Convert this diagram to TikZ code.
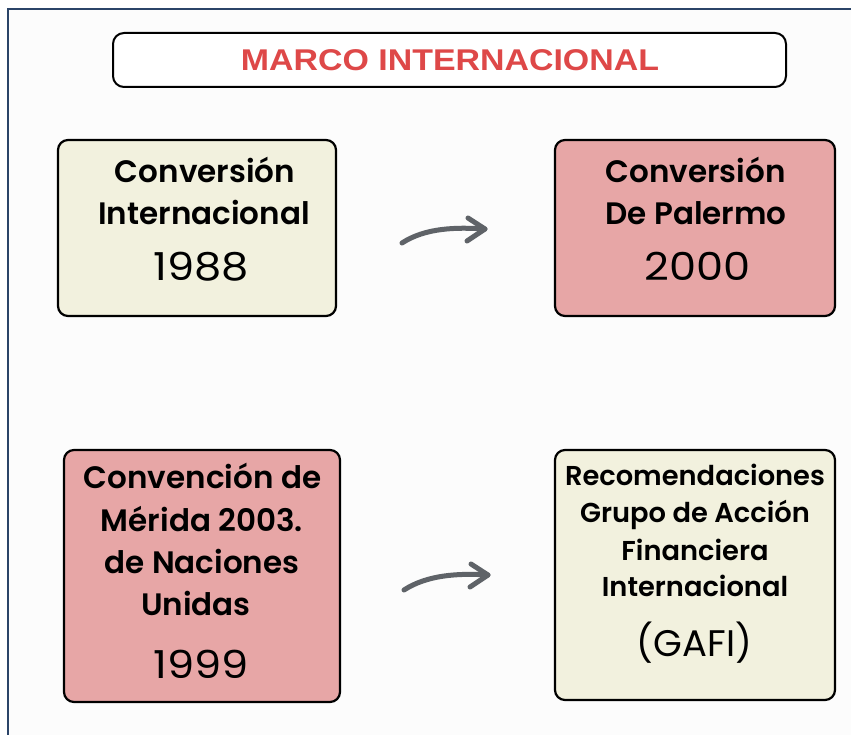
\documentclass[tikz,border=0pt]{standalone}
\usepackage{fontspec}
\setmainfont{Poppins}[BoldFont={Poppins SemiBold}]
\newfontfamily\yearfont[FakeStretch=1.12]{Poppins}
\newfontfamily\titlefont[FakeStretch=1.13]{Liberation Sans}
\usetikzlibrary{calc}
\definecolor{cream}{RGB}{242,241,222}
\definecolor{rosa}{RGB}{231,166,166}
\definecolor{titred}{RGB}{222,72,72}
\definecolor{frameblue}{RGB}{43,68,104}
\definecolor{arrgray}{RGB}{95,99,104}
\tikzset{
  card/.style={draw=black,line width=2.2pt,rounded corners=10pt,inner sep=0pt},
  btext/.style={anchor=base,inner sep=0pt,font=\bfseries\fontsize{31}{31}\selectfont},
  ytext/.style={anchor=base,inner sep=0pt,font=\yearfont\fontsize{38.5}{38}\selectfont},
  stext/.style={anchor=base,inner sep=0pt,font=\bfseries\fontsize{27.3}{27}\selectfont},
  flow/.style={draw=arrgray,line width=5pt,line cap=round,line join=round},
}
\begin{document}
\begin{tikzpicture}[x=1pt,y=-1pt]
\useasboundingbox (0,0) rectangle (851,735);
\fill[white] (0,0) rectangle (851,735);
\fill[black!1] (9,10) rectangle (851,735);
% frame
\coordinate (fb) at (8,740);
\coordinate (fc) at (8,9);
\coordinate (fr) at (856,9);
\draw[frameblue,line width=2.6pt] (fb) -- (fc) -- (fr);
% title
\node[draw=black,line width=2pt,rounded corners=11pt,fill=white,minimum width=673pt,minimum height=54pt,inner sep=0pt] (title) at (449.5,60) {};
\node[inner sep=0pt,anchor=base,font=\titlefont\bfseries\fontsize{30}{30}\selectfont,text=titred] (titletext) at (450,71) {MARCO INTERNACIONAL};
% box 1
\node[card,fill=cream,minimum width=278pt,minimum height=176pt] (b1) at (197,228) {};
\node[btext] (b1a) at (205,183) {Conversión};
\node[btext] (b1b) at (204,225) {Internacional};
\node[ytext] (b1c) at (201,280) {1988};
% box 2
\node[card,fill=rosa,minimum width=280pt,minimum height=176pt] (b2) at (695,228) {};
\node[btext] (b2a) at (695.5,183) {Conversión};
\node[btext] (b2b) at (696,225) {De Palermo};
\node[ytext] (b2c) at (697.5,280) {2000};
% box 3
\node[card,fill=rosa,minimum width=276pt,minimum height=252pt] (b3) at (202,576) {};
\node[btext] (b3a) at (202.5,488) {Convención de};
\node[btext] (b3b) at (202,531) {Mérida 2003.};
\node[btext] (b3c) at (202,573) {de Naciones};
\node[btext] (b3d) at (196,615) {Unidas};
\node[ytext] (b3e) at (201.5,678) {1999};
% box 4
\node[card,fill=cream,minimum width=280pt,minimum height=250pt] (b4) at (695,575) {};
\node[stext] (b4a) at (695,485.5) {Recomendaciones};
\node[stext] (b4b) at (695,522) {Grupo de Acción};
\node[stext] (b4c) at (695,560.5) {Financiera};
\node[stext] (b4d) at (695,596.5) {Internacional};
\node[anchor=base,inner sep=0pt,font=\fontsize{37}{37}\selectfont] (b4e) at (694.5,656) {(GAFI)};
% arrows
\coordinate (a1s) at (402,243);
\coordinate (a1e) at (485,229);
\draw[flow] (a1s) .. controls (425,228) and (455,227) .. (a1e);
\draw[flow] ($(a1e)+(-17,-11)$) -- (a1e) -- ($(a1e)+(-18,12)$);
\coordinate (a2s) at (404,590);
\coordinate (a2e) at (488,575);
\draw[flow] (a2s) .. controls (427,575) and (458,573) .. (a2e);
\draw[flow] ($(a2e)+(-17,-11)$) -- (a2e) -- ($(a2e)+(-18,12)$);
\end{tikzpicture}
\end{document}
